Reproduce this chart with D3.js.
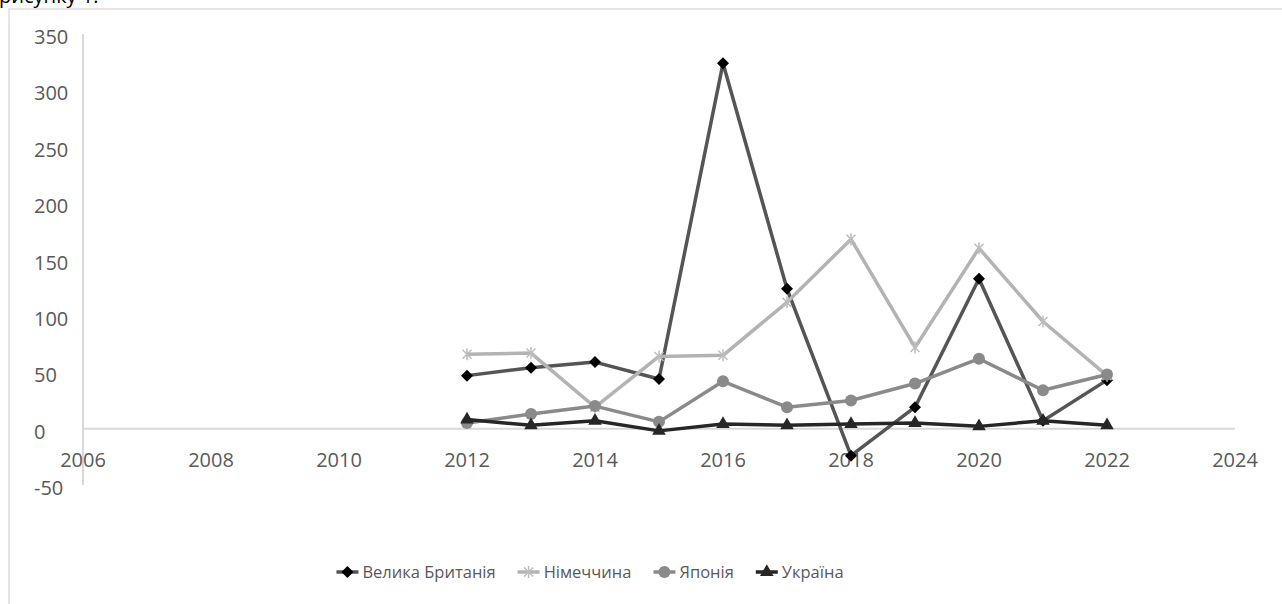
<!DOCTYPE html>
<html>
<head>
<meta charset="utf-8">
<script src="https://cdn.jsdelivr.net/npm/d3@7/dist/d3.min.js"></script>
<style>
html,body{margin:0;padding:0;background:#fff;}
svg{display:block;}
text{font-family:"Open Sans","Noto Sans",sans-serif;}
</style>
</head>
<body>
<svg id="chart" width="1282" height="604"></svg>
<script>
const years = [2012, 2013, 2014, 2015, 2016, 2017, 2018, 2019, 2020, 2021, 2022];
const ukValues = [47, 54, 59, 44, 324, 124, -24, 19, 133, 7, 43];
const deValues = [66, 67, 19, 64, 65, 112, 168, 72, 160, 95, 47];
const jpValues = [5, 13, 20, 6, 42, 19, 25, 40, 62, 34, 48];
const uaValues = [8, 3, 7, -2, 4, 3, 4, 5, 2, 7, 3];
const seriesNames = ["Велика Британія", "Німеччина", "Японія", "Україна"];
const xTicks = [2006, 2008, 2010, 2012, 2014, 2016, 2018, 2020, 2022, 2024];
const yTicks = [350, 300, 250, 200, 150, 100, 50, 0, -50];

const svg = d3.select("#chart");

// caption fragment at top
svg.append("text").attr("x", -1).attr("y", 3).attr("font-size", 20).attr("fill", "#000")
  .text("рисунку 1.");

// frame
svg.append("rect").attr("x", 9).attr("y", 9).attr("width", 1290).attr("height", 620)
  .attr("fill", "none").attr("stroke", "#e6e6e6").attr("stroke-width", 2);

const x = d3.scaleLinear().domain([2006, 2024]).range([83, 1235]);
const y = d3.scaleLinear().domain([-50, 350]).range([485, 34]);

// axes lines
svg.append("line").attr("x1", x(2006)).attr("x2", x(2006)).attr("y1", y(350)).attr("y2", y(-50))
  .attr("stroke", "#d9d9d9").attr("stroke-width", 2);
svg.append("line").attr("x1", x(2006)).attr("x2", x(2024)).attr("y1", y(0)).attr("y2", y(0))
  .attr("stroke", "#d9d9d9").attr("stroke-width", 2);

// y labels (left aligned)
svg.selectAll(".ylab").data(yTicks).enter().append("text")
  .attr("x", 34).attr("y", d => y(d) + 3).attr("dy", "0.35em")
  .attr("font-size", 20).attr("fill", "#595959").text(d => d);

// x labels
svg.selectAll(".xlab").data(xTicks).enter().append("text")
  .attr("x", d => x(d)).attr("y", 460).attr("dy", "0.35em").attr("text-anchor", "middle")
  .attr("font-size", 20).attr("fill", "#595959").text(d => d);

const starPath = (s) => {
  const r = s / 2;
  const d = r * 0.75;
  return `M${-d},${-d}L${d},${d}M${-d},${d}L${d},${-d}M0,${-r}L0,${r}`;
};

function marker(g, type, cx, cy, color) {
  if (type === "diamond") {
    g.append("path").attr("d", "M0,-6L6,0L0,6L-6,0Z")
      .attr("transform", `translate(${cx},${cy})`).attr("fill", "#000");
  } else if (type === "star") {
    g.append("path").attr("d", starPath(12)).attr("transform", `translate(${cx},${cy})`)
      .attr("fill", "none").attr("stroke", color).attr("stroke-width", 1.5);
  } else if (type === "circle") {
    g.append("circle").attr("cx", cx).attr("cy", cy).attr("r", 6).attr("fill", color);
  } else if (type === "triangle") {
    g.append("path").attr("d", d3.symbol(d3.symbolTriangle, 80)())
      .attr("transform", `translate(${cx},${cy})`).attr("fill", color);
  }
}

const series = [
  {name: seriesNames[0], values: ukValues, line: "#555555", mcolor: "#000", type: "diamond"},
  {name: seriesNames[1], values: deValues, line: "#b3b3b3", mcolor: "#bdbdbd", type: "star"},
  {name: seriesNames[2], values: jpValues, line: "#8a8a8a", mcolor: "#8a8a8a", type: "circle"},
  {name: seriesNames[3], values: uaValues, line: "#262626", mcolor: "#262626", type: "triangle"}
];

const lineGen = d3.line().x(d => x(d[0])).y(d => y(d[1]));

series.forEach(s => {
  const pts = years.map((yr, i) => [yr, s.values[i]]);
  const g = svg.append("g");
  g.append("path").attr("d", lineGen(pts)).attr("fill", "none")
    .attr("stroke", s.line).attr("stroke-width", 3.5).attr("stroke-linejoin", "round");
  pts.forEach(p => marker(g, s.type, x(p[0]), y(p[1]), s.mcolor));
});

// legend
const legend = svg.append("g");
let cursor = 0;
const ly = 572;
series.forEach((s, i) => {
  const g = legend.append("g").attr("transform", `translate(${cursor},0)`);
  g.append("line").attr("x1", 0).attr("x2", 22).attr("y1", ly).attr("y2", ly)
    .attr("stroke", s.line).attr("stroke-width", 3.5);
  marker(g, s.type, 11, ly, s.mcolor);
  const t = g.append("text").attr("x", 26).attr("y", ly).attr("dy", "0.35em")
    .attr("font-size", 16.5).attr("fill", "#595959").text(s.name);
  cursor += 26 + t.node().getComputedTextLength() + 22;
});
const total = cursor - 22;
legend.attr("transform", `translate(${590 - total / 2},0)`);
</script>
</body>
</html>
